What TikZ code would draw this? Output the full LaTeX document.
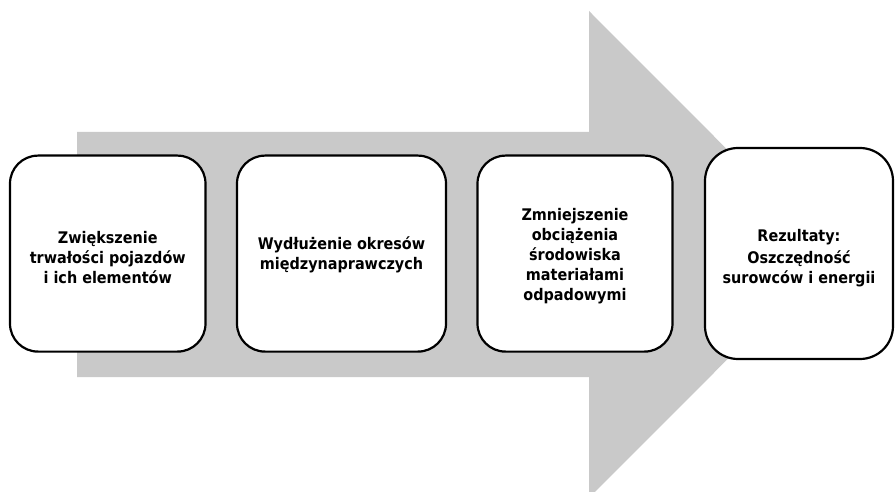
\documentclass[tikz,border=0pt]{standalone}
\usepackage{fontspec}
\setmainfont{DejaVu Sans Condensed}
\definecolor{arrowgray}{RGB}{201,201,201}
\begin{document}
\begin{tikzpicture}[x=1pt,y=-1pt,
  stepbox/.style={draw=black, line width=2.2pt, fill=white, rounded corners=28pt,
    inner sep=0pt},
  steptext/.style={align=center, inner sep=0pt,
    font=\fontsize{16}{20}\selectfont\bfseries},
]
\useasboundingbox (0,0) rectangle (895,492);
\clip (0,0) rectangle (895,492);
\fill[arrowgray] (77,132) -- (589,132) -- (589,11) -- (832,254.5) -- (589,498)
  -- (589,377) -- (77,377) -- cycle;
\node[stepbox, minimum width=195.5pt, minimum height=196pt] (b1) at (107.75,253.6) {};
\node[stepbox, minimum width=209pt, minimum height=196pt] (b2) at (341.5,253.6) {};
\node[stepbox, minimum width=195pt, minimum height=196pt] (b3) at (575,253.6) {};
\node[stepbox, minimum width=188pt, minimum height=211pt, rounded corners=33pt] (b4) at (799,253.5) {};
\node[steptext] (t1) at ([yshift=-4pt]b1.center)
  {Zwiększenie\\trwałości pojazdów\\i ich elementów};
\node[steptext] (t2) at ([yshift=-1pt]b2.center)
  {Wydłużenie okresów\\międzynaprawczych};
\node[steptext] (t3) at ([yshift=-3pt]b3.center)
  {Zmniejszenie\\obciążenia\\środowiska\\materiałami\\odpadowymi};
\node[steptext] (t4) at ([yshift=-5pt]b4.center)
  {Rezultaty:\\[2pt]Oszczędność\\surowców i energii};
\end{tikzpicture}
\end{document}
